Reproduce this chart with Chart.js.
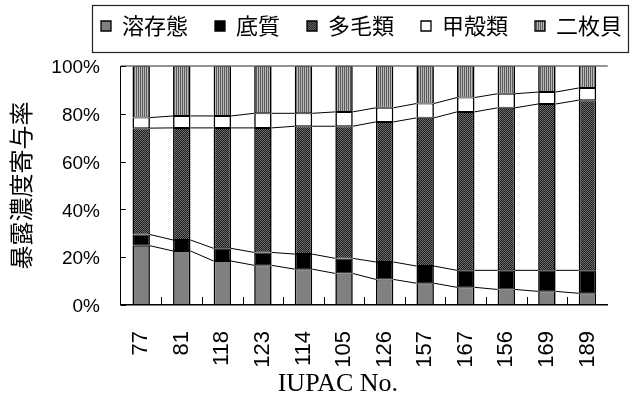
<!DOCTYPE html>
<html><head><meta charset="utf-8">
<script src="https://cdn.jsdelivr.net/npm/chart.js@4/dist/chart.umd.min.js"></script>
<style>
html,body{margin:0;padding:0;background:#fff;overflow:hidden;width:630px;height:399px}
#wrap{position:relative;width:640px;height:399px}
canvas{display:block}
</style></head><body>
<div id="wrap"><canvas id="c" width="640" height="399"></canvas></div>
<script>
// ---- data (% of exposure concentration) ----
const categories = ['77','81','118','123','114','105','126','157','167','156','169','189'];
const seriesNames = ['溶存態','底質','多毛類','甲殻類','二枚貝'];
const dissolved  = [24.8, 22.6, 18.4, 16.6, 15.0, 13.2, 10.7, 9.1, 7.4, 6.5, 5.7, 4.9];
const sediment   = [4.7, 4.6, 5.3, 5.4, 6.3, 6.3, 7.3, 7.2, 7.1, 8.0, 8.8, 9.6];
const polychaete = [44.5, 46.9, 50.4, 52.1, 53.5, 55.3, 58.6, 62.0, 66.3, 68.0, 69.6, 71.2];
const crustacean = [4.4, 5.0, 5.0, 6.1, 5.4, 6.0, 5.9, 6.0, 6.0, 5.9, 5.0, 5.1];
const bivalve    = [21.6, 20.9, 20.9, 19.8, 19.8, 19.2, 17.5, 15.7, 13.2, 11.6, 10.9, 9.2];
const yTickValues = [0, 20, 40, 60, 80, 100];
const yTitle = '暴露濃度寄与率';
const xTitle = 'IUPAC No.';

// ---- styles ----
const CJK = '"Noto Sans CJK JP", "Noto Sans CJK SC", sans-serif';
const SANS = '"Liberation Sans", Arial, sans-serif';
const SERIF = '"Liberation Serif", "Times New Roman", serif';

function makePattern(w, h, draw) {
  const c = document.createElement('canvas');
  c.width = w; c.height = h;
  const x = c.getContext('2d');
  draw(x);
  return x.createPattern(c, 'repeat');
}
const hatchDark = makePattern(2, 2, x => {
  x.fillStyle = '#1c1c1c'; x.fillRect(0, 0, 2, 2);
  x.fillStyle = '#6e6e6e'; x.fillRect(0, 0, 1, 1); x.fillRect(1, 1, 1, 1);
});
const stripesV = makePattern(2, 2, x => {
  x.fillStyle = '#5c5c5c'; x.fillRect(0, 0, 1, 2);
  x.fillStyle = '#b8b8b8'; x.fillRect(1, 0, 1, 2);
});
const fills = ['#808080', '#000000', hatchDark, '#ffffff', stripesV];
const values = [dissolved, sediment, polychaete, crustacean, bivalve];

// ---- plugins for Excel-like details ----
const LEGEND_X = 101, LEGEND_TEXT_TOP = 15;
const excelLook = {
  id: 'excelLook',
  afterLayout(chart) {
    const lg = chart.legend;
    if (!lg) return;
    const g = lg.options.labels.padding;
    const h = lg.height;
    lg.left = LEGEND_X - g;
    lg.right = 700;
    lg.top = LEGEND_TEXT_TOP - g;
    lg.bottom = lg.top + h;
  },
  afterDatasetsDraw(chart) {
    const ctx = chart.ctx;
    ctx.save();
    ctx.strokeStyle = '#000';
    ctx.lineWidth = 1;
    // series lines between the tops of each stacked segment
    for (let d = 0; d < 4; d++) {
      const pts = chart.getDatasetMeta(d).data;
      ctx.beginPath();
      for (let i = 0; i < pts.length - 1; i++) {
        const a = pts[i], b = pts[i + 1];
        ctx.moveTo(a.x + a.width / 2, a.y);
        ctx.lineTo(b.x - b.width / 2, b.y);
      }
      ctx.stroke();
    }
    ctx.restore();
  },
  afterDraw(chart) {
    const ctx = chart.ctx, ca = chart.chartArea;
    const xs = chart.scales.x, ys = chart.scales.y;
    ctx.save();
    // top border of the plot area
    ctx.strokeStyle = '#707070'; ctx.lineWidth = 1.5;
    ctx.beginPath(); ctx.moveTo(ca.left, ca.top); ctx.lineTo(ca.right, ca.top); ctx.stroke();
    // inward tick marks
    ctx.strokeStyle = '#000'; ctx.lineWidth = 1;
    ctx.beginPath();
    yTickValues.forEach(v => {
      const y = Math.round(ys.getPixelForValue(v)) + 0.5;
      ctx.moveTo(ca.left, y); ctx.lineTo(ca.left + 5, y);
    });
    for (let i = 0; i < categories.length - 1; i++) {
      const x = Math.round((xs.getPixelForValue(i) + xs.getPixelForValue(i + 1)) / 2) + 0.5;
      ctx.moveTo(x, ca.bottom); ctx.lineTo(x, ca.bottom - 8);
    }
    ctx.stroke();
    // legend frame
    const lg = chart.legend;
    if (lg && lg.legendHitBoxes && lg.legendHitBoxes.length) {
      const hb = lg.legendHitBoxes;
      const l = hb[0].left - 9;
      const t = hb[0].top - 10, b = hb[0].top + hb[0].height + 15;
      ctx.strokeStyle = '#222'; ctx.lineWidth = 1.2;
      ctx.strokeRect(Math.round(l) + 0.5, Math.round(t) + 0.5, 628 - Math.round(l), Math.round(b - t));
    }
    // x axis title
    ctx.fillStyle = '#000';
    ctx.font = '26px ' + SERIF;
    ctx.textAlign = 'center';
    ctx.textBaseline = 'middle';
    ctx.fillText(xTitle, ca.left + 217, 384);
    ctx.restore();
  }
};

new Chart(document.getElementById('c'), {
  type: 'bar',
  data: {
    labels: categories,
    datasets: seriesNames.map((name, k) => ({
      label: name,
      data: values[k],
      backgroundColor: fills[k],
      borderColor: '#000',
      borderWidth: { top: 1, bottom: 1, left: 1.6, right: 1.6 },
      borderSkipped: false,
      barPercentage: 0.43,
      categoryPercentage: 1
    }))
  },
  options: {
    responsive: false,
    animation: false,
    devicePixelRatio: 1,
    layout: { padding: { top: 7, right: 3.5, bottom: 5.3, left: 0 } },
    plugins: {
      tooltip: { enabled: false },
      legend: {
        position: 'top',
        align: 'start',
        labels: {
          boxWidth: 10, boxHeight: 10, padding: 27, color: '#000',
          font: { family: CJK, size: 22 }
        }
      }
    },
    scales: {
      x: {
        stacked: true,
        grid: { display: false, drawTicks: false },
        border: { display: true, color: '#000', width: 1.5 },
        ticks: {
          color: '#000', font: { family: SANS, size: 22 },
          minRotation: 90, maxRotation: 90, padding: 26, autoSkip: false
        }
      },
      y: {
        stacked: true, min: 0, max: 100,
        afterBuildTicks(scale) { scale.ticks = yTickValues.map(v => ({ value: v })); },
        grid: { display: false, drawTicks: false },
        border: { display: true, color: '#000', width: 1 },
        ticks: {
          color: '#000', font: { family: SANS, size: 19 }, padding: 21, labelOffset: 2,
          callback: v => v + '%'
        },
        title: {
          display: true, text: yTitle, color: '#000',
          font: { family: CJK, size: 24, lineHeight: 0.78 },
          padding: { top: 11.6, bottom: 0 }
        }
      }
    }
  },
  plugins: [excelLook]
});
</script>
</body></html>
